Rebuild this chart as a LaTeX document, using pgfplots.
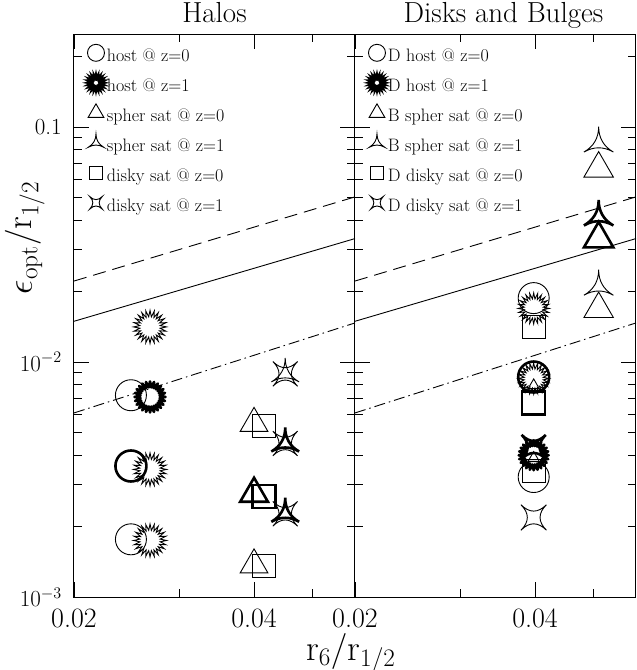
\documentclass[border=0pt]{standalone}
\usepackage{fix-cm}
\usepackage{fontspec}
\usepackage{pgfplots}
\pgfplotsset{compat=1.18}

\pgfdeclareplotmark{burst}{%
  \pgfpathmoveto{\pgfpointpolar{90}{\pgfplotmarksize}}%
  \pgfplotsforeachungrouped \i in {1,...,47}{%
    \pgfmathsetmacro\myang{90+7.5*\i}%
    \ifodd\i\relax
      \pgfpathlineto{\pgfpointpolar{\myang}{0.62\pgfplotmarksize}}%
    \else
      \pgfpathlineto{\pgfpointpolar{\myang}{\pgfplotmarksize}}%
    \fi}%
  \pgfpathclose\pgfusepathqstroke}
\pgfdeclareplotmark{tristar}{%
  \pgfpathmoveto{\pgfpointpolar{90}{\pgfplotmarksize}}%
  \pgfpathquadraticcurveto{\pgfpointorigin}{\pgfpointpolar{210}{\pgfplotmarksize}}%
  \pgfpathquadraticcurveto{\pgfpointorigin}{\pgfpointpolar{330}{\pgfplotmarksize}}%
  \pgfpathquadraticcurveto{\pgfpointorigin}{\pgfpointpolar{90}{\pgfplotmarksize}}%
  \pgfpathclose\pgfusepathqstroke}
\pgfdeclareplotmark{fourstar}{%
  \pgfpathmoveto{\pgfpointpolar{45}{\pgfplotmarksize}}%
  \pgfpathquadraticcurveto{\pgfpointorigin}{\pgfpointpolar{135}{\pgfplotmarksize}}%
  \pgfpathquadraticcurveto{\pgfpointorigin}{\pgfpointpolar{225}{\pgfplotmarksize}}%
  \pgfpathquadraticcurveto{\pgfpointorigin}{\pgfpointpolar{315}{\pgfplotmarksize}}%
  \pgfpathquadraticcurveto{\pgfpointorigin}{\pgfpointpolar{45}{\pgfplotmarksize}}%
  \pgfpathclose\pgfusepathqstroke}

\newcommand\lgf{\fontsize{18}{20}\selectfont}

\pgfplotsset{
  refln/.style={black, line width=0.9pt, forget plot},
  thn/.style={black, only marks, line width=0.9pt, forget plot, mark options={solid}},
  thk/.style={black, only marks, line width=2.6pt, forget plot, mark options={solid}},
  lg/.style={black, line width=0.9pt, mark options={solid}},
}

\begin{document}
\begin{tikzpicture}
\begin{axis}[at={(0,0)}, anchor=south west,
    scale only axis, width=281pt, height=563pt,
    xmode=log, ymode=log, xmin=0.02, xmax=0.059, ymin=0.001, ymax=0.2486,
    xtick={0.02,0.04}, xticklabels={0.02,0.04}, minor xtick={0.03,0.05},
    ytick={0.001,0.01,0.1},
    minor ytick={0.002,0.003,0.004,0.005,0.006,0.007,0.008,0.009,0.02,0.03,0.04,0.05,0.06,0.07,0.08,0.09,0.2},
    tick align=inside, xtick pos=both, ytick pos=both,
    major tick length=15pt, minor tick length=8pt,
    tick style={black, line width=0.9pt},
    axis line style={line width=1pt},
    clip=false,
    xticklabel style={font=\fontsize{28}{30}\selectfont, anchor=north, inner sep=0pt, yshift=-12pt},
    yticklabel style={font=\fontsize{23}{26}\selectfont, anchor=east, inner sep=0pt, xshift=-12pt},
    title style={font=\fontsize{29}{31}\selectfont, at={(axis description cs:0.5,1)}, anchor=base, yshift=6pt},
    legend style={at={(axis description cs:0,1)}, anchor=north west, xshift=13pt, yshift=-11.3pt,
      draw=none, fill=none, inner sep=0pt, outer sep=0pt, row sep=10pt, column sep=2pt,
      nodes={inner sep=0pt, text height=12pt, text depth=4pt}},
    legend cell align=left,
    legend image code/.code={\pgfpathrectangle{\pgfpoint{-9pt}{-4pt}}{\pgfpoint{18pt}{16pt}}\pgfusepath{use as bounding box}%
      \begin{pgfinterruptboundingbox}\draw[#1] plot coordinates {(0pt,4.5pt)};\end{pgfinterruptboundingbox}},
  title={Halos},
  yticklabels={$10^{-3}$,$10^{-2}$,0.1},
  xlabel={$\mathrm{r_6/r_{1/2}}$},
  xlabel style={font=\fontsize{36}{38}\selectfont, at={(axis description cs:0.985,-0.112)}, anchor=base},
  ylabel={$\epsilon_{\rm opt}/\mathrm{r}_{1/2}$},
  ylabel style={font=\fontsize{36}{38}\selectfont, at={(axis description cs:-0.1495,0.638)}, anchor=base},
]
% reference lines
\addplot[refln] coordinates {(0.02,0.0149) (0.059,0.0335)};
\addplot[refln, dash pattern=on 13pt off 7pt] coordinates {(0.02,0.0221) (0.059,0.0504)};
\addplot[refln, dash pattern=on 11pt off 4pt on 1.5pt off 4pt] coordinates {(0.02,0.00607) (0.059,0.01466)};
% host
\addplot[thn, mark=o, mark size=15.5pt] coordinates {(0.0249,0.00722) (0.0249,0.00176)};
\addplot[thk, mark=o, mark size=15.5pt] coordinates {(0.0249,0.00361)};
\addplot[thn, mark=burst, mark size=16.5pt] coordinates {(0.0268,0.0141) (0.0268,0.00349) (0.0268,0.00174)};
\addplot[thk, mark=burst, mark size=15.5pt, line join=round] coordinates {(0.0268,0.0071)};
% spher sat
\addplot[thn, mark=triangle, mark size=16pt] coordinates {(0.04,0.00548) (0.04,0.00137)};
\addplot[thk, mark=triangle, mark size=16pt] coordinates {(0.04,0.00275)};
% disky sat
\addplot[thn, mark=square, mark size=11.5pt] coordinates {(0.0416,0.00536) (0.0416,0.00135)};
\addplot[thk, mark=square, mark size=11.5pt] coordinates {(0.0416,0.00268)};
% z=1 satellites
\addplot[thn, mark=fourstar, mark size=17.5pt] coordinates {(0.0451,0.0089) (0.0451,0.0045) (0.0451,0.00226)};
\addplot[thn, mark=tristar, mark size=16pt] coordinates {(0.0451,0.0089)};
\addplot[thk, mark=tristar, mark size=16pt] coordinates {(0.0451,0.0045) (0.0451,0.00226)};
% legend
\addlegendimage{lg, mark=o, mark size=8.5pt}\addlegendentry{\lgf host @ z=0}
\addlegendimage{lg, mark=burst, mark size=8.5pt, line width=2.2pt}\addlegendentry{\lgf host @ z=1}
\addlegendimage{lg, mark=triangle, mark size=9pt}\addlegendentry{\lgf spher sat @ z=0}
\addlegendimage{lg, mark=tristar, mark size=9pt}\addlegendentry{\lgf spher sat @ z=1}
\addlegendimage{lg, mark=square, mark size=6.5pt}\addlegendentry{\lgf disky sat @ z=0}
\addlegendimage{lg, mark=fourstar, mark size=9pt}\addlegendentry{\lgf disky sat @ z=1}
\end{axis}

\begin{axis}[at={(281pt,0)}, anchor=south west,
    scale only axis, width=281pt, height=563pt,
    xmode=log, ymode=log, xmin=0.02, xmax=0.059, ymin=0.001, ymax=0.2486,
    xtick={0.02,0.04}, xticklabels={0.02,0.04}, minor xtick={0.03,0.05},
    ytick={0.001,0.01,0.1},
    minor ytick={0.002,0.003,0.004,0.005,0.006,0.007,0.008,0.009,0.02,0.03,0.04,0.05,0.06,0.07,0.08,0.09,0.2},
    tick align=inside, xtick pos=both, ytick pos=both,
    major tick length=15pt, minor tick length=8pt,
    tick style={black, line width=0.9pt},
    axis line style={line width=1pt},
    clip=false,
    xticklabel style={font=\fontsize{28}{30}\selectfont, anchor=north, inner sep=0pt, yshift=-12pt},
    title style={font=\fontsize{29}{31}\selectfont, at={(axis description cs:0.5,1)}, anchor=base, yshift=6pt, xshift=8pt},
    legend style={at={(axis description cs:0,1)}, anchor=north west, xshift=13pt, yshift=-11.3pt,
      draw=none, fill=none, inner sep=0pt, outer sep=0pt, row sep=10pt, column sep=2pt,
      nodes={inner sep=0pt, text height=12pt, text depth=4pt}},
    legend cell align=left,
    legend image code/.code={\pgfpathrectangle{\pgfpoint{-9pt}{-4pt}}{\pgfpoint{18pt}{16pt}}\pgfusepath{use as bounding box}%
      \begin{pgfinterruptboundingbox}\draw[#1] plot coordinates {(0pt,4.5pt)};\end{pgfinterruptboundingbox}},
  title={Disks and Bulges},
  yticklabels={},
]
\addplot[refln] coordinates {(0.02,0.0149) (0.059,0.0335)};
\addplot[refln, dash pattern=on 13pt off 7pt] coordinates {(0.02,0.0221) (0.059,0.0504)};
\addplot[refln, dash pattern=on 11pt off 4pt on 1.5pt off 4pt] coordinates {(0.02,0.00607) (0.059,0.01466)};
% disk column
\addplot[thn, mark=o, mark size=15.5pt] coordinates {(0.0398,0.0187) (0.0398,0.00324)};
\addplot[thk, mark=o, mark size=15.5pt] coordinates {(0.0398,0.00863)};
\addplot[thn, mark=burst, mark size=15.5pt] coordinates {(0.0398,0.0169) (0.0398,0.0085)};
\addplot[thk, mark=burst, mark size=15pt, line join=round] coordinates {(0.0398,0.00401)};
\addplot[thn, mark=square, mark size=11.5pt] coordinates {(0.0398,0.0141) (0.0398,0.00343)};
\addplot[thk, mark=square, mark size=11.5pt] coordinates {(0.0398,0.0067)};
\addplot[thn, mark=triangle, mark size=6.5pt] coordinates {(0.0398,0.00795) (0.0398,0.0039)};
\addplot[thk, mark=fourstar, mark size=17pt] coordinates {(0.0398,0.00435)};
\addplot[thn, mark=fourstar, mark size=18pt] coordinates {(0.0398,0.00218)};
% bulge column
\addplot[thn, mark=tristar, mark size=17pt] coordinates {(0.0511,0.085) (0.0511,0.0209)};
\addplot[thk, mark=tristar, mark size=17pt] coordinates {(0.0511,0.0414)};
\addplot[thn, mark=triangle, mark size=17pt] coordinates {(0.0511,0.0665) (0.0511,0.0168)};
\addplot[thk, mark=triangle, mark size=17pt] coordinates {(0.0511,0.0334)};
% legend
\addlegendimage{lg, mark=o, mark size=8.5pt}\addlegendentry{\lgf D host @ z=0}
\addlegendimage{lg, mark=burst, mark size=8.5pt, line width=2.2pt}\addlegendentry{\lgf D host @ z=1}
\addlegendimage{lg, mark=triangle, mark size=9pt}\addlegendentry{\lgf B spher sat @ z=0}
\addlegendimage{lg, mark=tristar, mark size=9pt}\addlegendentry{\lgf B spher sat @ z=1}
\addlegendimage{lg, mark=square, mark size=6.5pt}\addlegendentry{\lgf D disky sat @ z=0}
\addlegendimage{lg, mark=fourstar, mark size=9pt}\addlegendentry{\lgf D disky sat @ z=1}
\end{axis}
\pgfresetboundingbox
\path[use as bounding box] (-74pt,-73pt) rectangle (562.5pt,597pt);
\end{tikzpicture}
\end{document}
